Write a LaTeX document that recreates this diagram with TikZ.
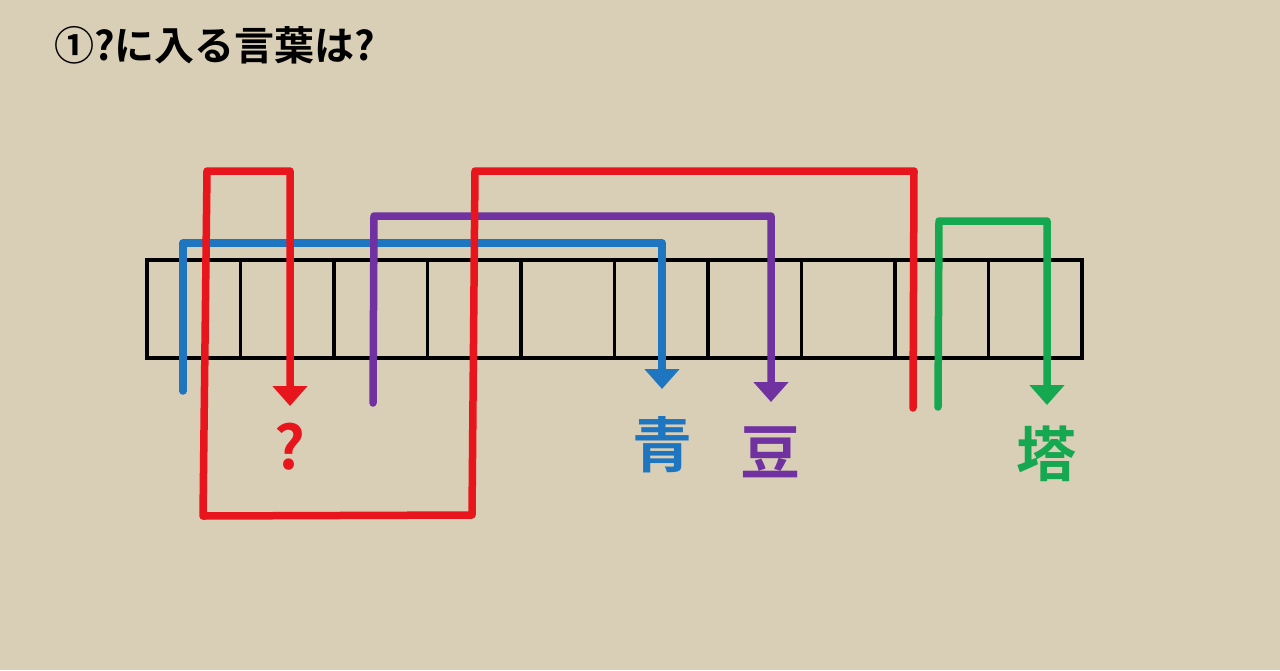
\documentclass[tikz,border=0pt]{standalone}
\usepackage{fontspec}
\newfontfamily\jpfont{Noto Sans CJK JP Bold}
\usepackage{tikz}
\usetikzlibrary{arrows.meta}
\definecolor{bgbeige}{RGB}{217,206,182}
\definecolor{wred}{RGB}{232,22,28}
\definecolor{wblue}{RGB}{30,118,192}
\definecolor{wpurple}{RGB}{112,50,160}
\definecolor{wgreen}{RGB}{22,168,80}
\begin{document}
\begin{tikzpicture}[x=1pt, y=-1pt,
	cellbox/.style={draw=black, line width=3.5pt, minimum width=93.5pt, minimum height=98pt, inner sep=0pt, outer sep=0pt},
	wire/.style={line width=7.5pt, line cap=round, line join=round, -{Triangle[width=34pt,length=20pt]}},
	word/.style={font=\jpfont\fontsize{60}{60}\selectfont, inner sep=0pt}]
	\fill [bgbeige] (0, 0) rectangle (1280, 670);
	\useasboundingbox (0, 0) rectangle (1280, 670);
	\node [anchor=west, inner sep=0pt, font=\jpfont\fontsize{40}{40}\selectfont] (title) at (54, 45) {①?に入る言葉は?};
	\foreach \i in {1,...,10}
		\node [cellbox] (c\i) at ({147+93.5*(\i-0.5)}, 309) {};
	\node [word, text=wred] (qmark) at (290, 447) {?};
	\node [word, text=wblue] (ao) at (662, 445) {青};
	\node [word, text=wpurple] (mame) at (770, 452) {豆};
	\node [word, text=wgreen] (tou) at (1046, 454) {塔};
	\coordinate (bluestart) at (183, 391);
	\coordinate (bluetip) at (662, 389);
	\coordinate (purplestart) at (373, 403);
	\coordinate (purpletip) at (771, 402);
	\coordinate (greenstart) at (938, 407);
	\coordinate (greentip) at (1047, 405);
	\coordinate (redstart) at (913, 408);
	\coordinate (redtip) at (290, 406);
	\draw [wire, wblue] (bluestart) -- (183, 243) -- (662, 243) -- (bluetip);
	\draw [wire, wpurple] (purplestart) -- (374, 216) -- (771, 216) -- (purpletip);
	\draw [wire, wgreen] (greenstart) -- (939, 221) -- (1047, 221) -- (greentip);
	\draw [wire, wred] (redstart) -- (914, 171) -- (475, 171) -- (472, 515) -- (203, 516) -- (207, 171) -- (290, 171) -- (redtip);
\end{tikzpicture}
\end{document}
